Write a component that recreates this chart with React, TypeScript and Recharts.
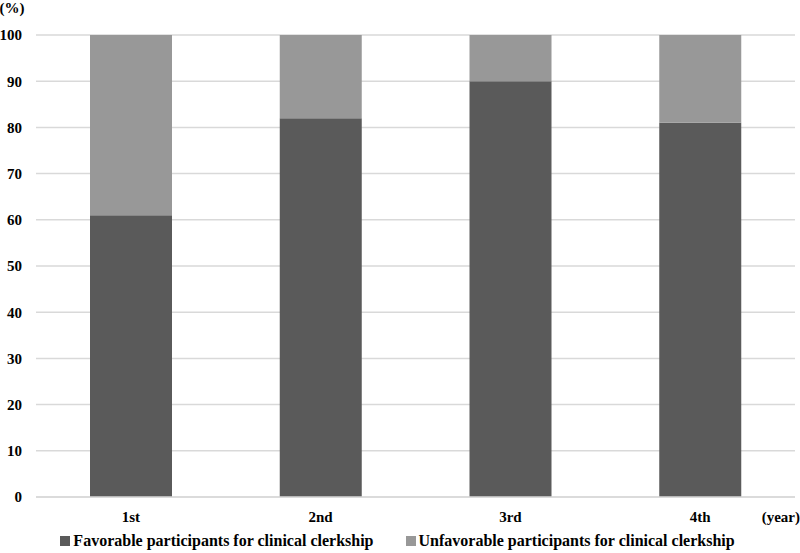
import React from "react";
import {
  Bar,
  BarChart,
  CartesianGrid,
  Legend,
  XAxis,
  YAxis,
} from "recharts";

const years = ["1st", "2nd", "3rd", "4th"];
const favorable = [61, 82, 90, 81];
const unfavorable = [39, 18, 10, 19];
const yTicks = [0, 10, 20, 30, 40, 50, 60, 70, 80, 90, 100];

const data = years.map((year, i) => ({
  year,
  favorable: favorable[i],
  unfavorable: unfavorable[i],
}));

const FONT = "'Liberation Serif', 'Times New Roman', serif";

const renderLegend = (props: any) => {
  const { payload } = props;
  return (
    <div
      style={{
        display: "flex",
        justifyContent: "center",
        gap: 32,
        fontFamily: FONT,
        fontWeight: "bold",
        fontSize: 16,
        color: "#000",
        paddingTop: 5,
      }}
    >
      {payload.map((entry: any) => (
        <div key={entry.value} style={{ display: "flex", alignItems: "center" }}>
          <span
            style={{
              width: 10,
              height: 10,
              background: entry.color,
              marginRight: 3,
              display: "inline-block",
            }}
          />
          <span>{entry.value}</span>
        </div>
      ))}
    </div>
  );
};

const tickStyle = { fill: "#000", fontFamily: FONT, fontWeight: "bold", fontSize: 15 };

const App = () => {
  return (
    <div style={{ position: "absolute", left: 0, top: 0, background: "#fff" }}>
      <BarChart
        width={800}
        height={553}
        data={data}
        barCategoryGap={54}
        margin={{ top: 35, right: 5, left: 0, bottom: 0 }}
      >
        <CartesianGrid vertical={false} stroke="#d9d9d9" strokeWidth={1.5} />
        <XAxis
          dataKey="year"
          axisLine={{ stroke: "#d9d9d9", strokeWidth: 1.5 }}
          tickLine={false}
          tickSize={12}
          height={30}
          tick={tickStyle}
          label={{
            value: "(year)",
            position: "insideRight",
            offset: -5,
            dy: 5,
            ...tickStyle,
          }}
        />
        <YAxis
          width={36}
          domain={[0, 100]}
          ticks={yTicks}
          interval={0}
          axisLine={false}
          tickLine={false}
          tickSize={12}
          tick={tickStyle}
          label={{
            value: "(%)",
            position: "top",
            offset: 22,
            dx: -6,
            ...tickStyle,
          }}
        />
        <Legend verticalAlign="bottom" height={26} content={renderLegend} />
        <Bar
          dataKey="favorable"
          name="Favorable participants for clinical clerkship"
          stackId="a"
          fill="#5a5a5a"
          isAnimationActive={false}
        />
        <Bar
          dataKey="unfavorable"
          name="Unfavorable participants for clinical clerkship"
          stackId="a"
          fill="#989898"
          isAnimationActive={false}
        />
      </BarChart>
    </div>
  );
};

export default App;
